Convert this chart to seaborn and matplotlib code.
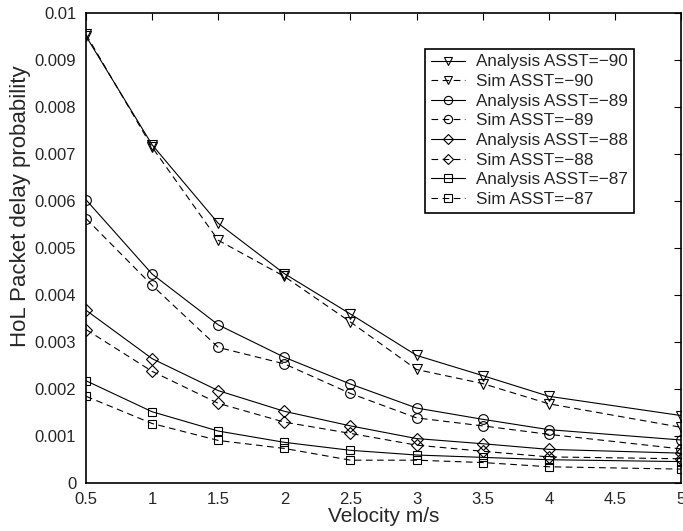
import matplotlib
matplotlib.use("Agg")
import matplotlib.pyplot as plt
import seaborn as sns
import pandas as pd

velocity = [0.5, 1, 1.5, 2, 2.5, 3, 3.5, 4, 5]

analysis_90 = [0.00951, 0.00720, 0.00553, 0.00446, 0.00360, 0.00272, 0.00229, 0.00185, 0.00144]
sim_90      = [0.00955, 0.00715, 0.00517, 0.00440, 0.00343, 0.00242, 0.00212, 0.00169, 0.00119]
analysis_89 = [0.00603, 0.00445, 0.00337, 0.00268, 0.00211, 0.00160, 0.00136, 0.00114, 0.00092]
sim_89      = [0.00563, 0.00421, 0.00289, 0.00254, 0.00191, 0.00139, 0.00122, 0.00104, 0.00073]
analysis_88 = [0.00368, 0.00265, 0.00197, 0.00153, 0.00122, 0.00095, 0.00084, 0.00072, 0.00064]
sim_88      = [0.00327, 0.00238, 0.00170, 0.00130, 0.00106, 0.00081, 0.00068, 0.00056, 0.00052]
analysis_87 = [0.00218, 0.00152, 0.00111, 0.00087, 0.00070, 0.00060, 0.00055, 0.00050, 0.00046]
sim_87      = [0.00185, 0.00127, 0.00091, 0.00074, 0.00049, 0.00049, 0.00044, 0.00035, 0.00030]

labels = ["Analysis ASST=\u221290", "Sim ASST=\u221290",
          "Analysis ASST=\u221289", "Sim ASST=\u221289",
          "Analysis ASST=\u221288", "Sim ASST=\u221288",
          "Analysis ASST=\u221287", "Sim ASST=\u221287"]
series = [analysis_90, sim_90, analysis_89, sim_89,
          analysis_88, sim_88, analysis_87, sim_87]
markers = ["v", "v", "o", "o", "D", "D", "s", "s"]
msizes = [7, 7, 7, 7, 6, 6, 6, 6]
styles = ["-", (0, (6, 4)), "-", (0, (6, 4)), "-", (0, (6, 4)), "-", (0, (6, 4))]

sns.set_style("white")
plt.rcParams['font.family'] = ['Liberation Sans', 'DejaVu Sans']

fig = plt.figure(figsize=(6.83, 5.31), dpi=100)
ax = fig.add_axes([0.126, 0.090, 0.871, 0.885])

for lab, ys, mk, ms, ls in zip(labels, series, markers, msizes, styles):
    df = pd.DataFrame({"x": velocity, "y": ys})
    sns.lineplot(data=df, x="x", y="y", ax=ax, color="black", linewidth=0.8,
                 linestyle=ls, marker=mk, markersize=ms, markerfacecolor="none",
                 markeredgecolor="black", markeredgewidth=0.8, label=lab)

ax.set_xlim(0.5, 5)
ax.set_ylim(0, 0.01)
ax.set_xticks([0.5, 1, 1.5, 2, 2.5, 3, 3.5, 4, 4.5, 5])
ax.set_xticklabels(["0.5", "1", "1.5", "2", "2.5", "3", "3.5", "4", "4.5", "5"])
yt = [0, 0.001, 0.002, 0.003, 0.004, 0.005, 0.006, 0.007, 0.008, 0.009, 0.01]
ax.set_yticks(yt)
ax.set_yticklabels(["0", "0.001", "0.002", "0.003", "0.004", "0.005", "0.006",
                    "0.007", "0.008", "0.009", "0.01"])
ax.tick_params(direction="in", length=5, width=0.8, top=True, right=True,
               labelsize=12, color="black")
ax.tick_params(axis="x", pad=6)
ax.tick_params(axis="y", pad=7)
for s in ax.spines.values():
    s.set_color("black")
    s.set_linewidth(1.2)
ax.set_xlabel("Velocity m/s", fontsize=15, labelpad=0)
ax.set_ylabel("HoL Packet delay probability", fontsize=16, labelpad=4)
ax.yaxis.set_label_coords(-0.093, 0.59)

leg = ax.legend(loc="upper left", bbox_to_anchor=(0.57, 0.925), fontsize=12.3,
                frameon=True, fancybox=False, edgecolor="black", framealpha=1,
                handlelength=2.0, handletextpad=0.6, labelspacing=0.27,
                borderpad=0.35, borderaxespad=0, markerscale=0.85)
leg.get_frame().set_linewidth(1.2)

fig.savefig("out.png", dpi=100)
